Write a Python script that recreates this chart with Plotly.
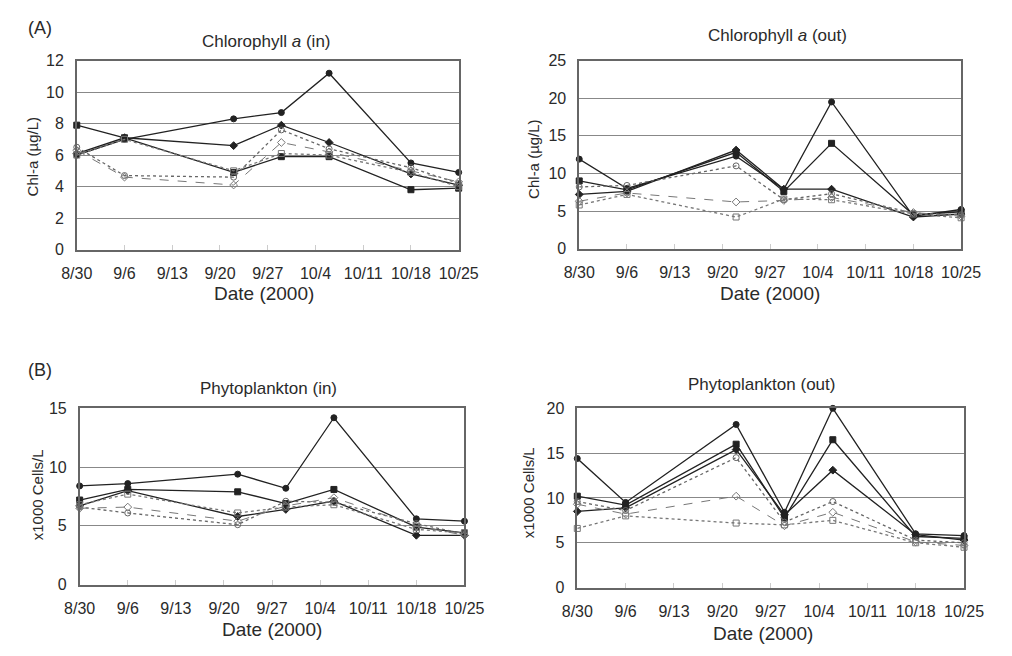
import plotly.graph_objects as go

# ---------------- data ----------------
sample_dates = ["2000-08-30", "2000-09-06", "2000-09-22", "2000-09-29",
                "2000-10-06", "2000-10-18", "2000-10-25"]
tick_dates = ["2000-08-30", "2000-09-06", "2000-09-13", "2000-09-20", "2000-09-27",
              "2000-10-04", "2000-10-11", "2000-10-18", "2000-10-25"]
tick_labels = ["8/30", "9/6", "9/13", "9/20", "9/27", "10/4", "10/11", "10/18", "10/25"]

chl_in_s1 = [6.0, 7.0, 8.3, 8.7, 11.2, 5.5, 4.9]
chl_in_s2 = [7.9, 7.1, 4.9, 5.9, 5.9, 3.8, 3.9]
chl_in_s3 = [6.1, 7.1, 6.6, 7.9, 6.8, 4.8, 4.1]
chl_in_o1 = [6.5, 4.7, 4.6, 7.6, 6.4, 5.2, 4.2]
chl_in_o2 = [6.3, 4.6, 4.1, 6.8, 6.2, 5.0, 4.3]
chl_in_o3 = [6.0, 7.0, 5.0, 6.1, 6.0, 4.9, 4.0]

chl_out_s1 = [11.9, 8.0, 12.3, 7.9, 19.5, 4.3, 5.2]
chl_out_s2 = [9.0, 7.8, 12.8, 7.6, 14.0, 4.5, 4.9]
chl_out_s3 = [7.2, 7.6, 13.1, 7.9, 7.9, 4.2, 4.6]
chl_out_o1 = [8.2, 8.4, 11.0, 6.5, 7.3, 4.7, 4.5]
chl_out_o2 = [6.3, 7.4, 6.2, 6.4, 6.8, 4.8, 4.3]
chl_out_o3 = [5.8, 7.2, 4.2, 6.6, 6.5, 4.6, 4.1]

phy_in_s1 = [8.4, 8.6, 9.4, 8.2, 14.2, 5.6, 5.4]
phy_in_s2 = [7.2, 8.1, 7.9, 6.9, 8.1, 4.9, 4.4]
phy_in_s3 = [6.7, 8.0, 5.8, 6.4, 7.1, 4.2, 4.2]
phy_in_o1 = [6.6, 6.1, 5.1, 7.1, 7.0, 5.2, 4.3]
phy_in_o2 = [6.5, 6.6, 5.4, 6.7, 7.4, 5.0, 4.2]
phy_in_o3 = [6.8, 7.7, 6.1, 6.6, 6.8, 4.7, 4.4]

phy_out_s1 = [14.4, 9.5, 18.2, 8.4, 20.0, 6.0, 5.8]
phy_out_s2 = [10.2, 9.2, 16.0, 7.8, 16.5, 5.7, 5.5]
phy_out_s3 = [8.5, 8.9, 15.4, 8.1, 13.1, 5.9, 5.3]
phy_out_o1 = [9.6, 8.6, 14.5, 7.3, 9.6, 5.3, 5.0]
phy_out_o2 = [9.3, 8.2, 10.2, 6.9, 8.4, 5.1, 4.7]
phy_out_o3 = [6.6, 8.0, 7.2, 7.0, 7.5, 5.0, 4.5]

panel_titles = ["Chlorophyll <i>a</i> (in)", "Chlorophyll <i>a</i> (out)",
                "Phytoplankton (in)", "Phytoplankton (out)"]
y_titles = ["Chl-a (µg/L)", "Chl-a (µg/L)", "x1000 Cells/L", "x1000 Cells/L"]
x_title = "Date (2000)"
part_labels = ["(A)", "(B)"]

panels = [
    dict(series=[chl_in_s1, chl_in_s2, chl_in_s3, chl_in_o1, chl_in_o2, chl_in_o3],
         yrange=[0, 12], dtick=2),
    dict(series=[chl_out_s1, chl_out_s2, chl_out_s3, chl_out_o1, chl_out_o2, chl_out_o3],
         yrange=[0, 25], dtick=5),
    dict(series=[phy_in_s1, phy_in_s2, phy_in_s3, phy_in_o1, phy_in_o2, phy_in_o3],
         yrange=[0, 15], dtick=5),
    dict(series=[phy_out_s1, phy_out_s2, phy_out_s3, phy_out_o1, phy_out_o2, phy_out_o3],
         yrange=[0, 20], dtick=5),
]

styles = [
    dict(dash="solid", color="#222222", symbol="circle", width=1.3),
    dict(dash="solid", color="#222222", symbol="square", width=1.3),
    dict(dash="solid", color="#222222", symbol="diamond", width=1.3),
    dict(dash="dot", color="#666666", symbol="circle-open", width=1.3),
    dict(dash="dash", color="#777777", symbol="diamond-open", width=1.0),
    dict(dash="dot", color="#777777", symbol="square-open", width=1.3),
]

W, H = 1012, 656
# plot areas in pixels: (x0, x1, ytop, ybottom)
boxes = [(63, 459, 54, 248), (584, 980, 54, 247), (66, 465, 411, 592), (582, 983, 411, 595)]
# label positions in pixels
title_pos = [(260, 34), (790, 28), (262, 391), (773, 387)]
xtitle_pos = [(257, 293), (782, 293), (265, 638), (775, 642)]
ytitle_pos = [(17, 152), (537, 155), (22, 500), (531, 498)]
part_pos = [(10, 21), (10, 372)]

FONT = "Liberation Sans, Arial, sans-serif"
TXT = "#2a2a2a"

fig = go.Figure()
for i, (p, b) in enumerate(zip(panels, boxes)):
    n = "" if i == 0 else str(i + 1)
    xa, ya = "x" + n, "y" + n
    for s, st in zip(p["series"], styles):
        fig.add_trace(go.Scatter(
            x=sample_dates, y=s, xaxis=xa, yaxis=ya, mode="lines+markers",
            line=dict(color=st["color"], dash=st["dash"], width=st["width"]),
            marker=dict(symbol=st["symbol"], size=6, color=st["color"],
                        line=dict(color=st["color"], width=1)),
            cliponaxis=False, showlegend=False))
    x0, x1, yt, yb = b
    fig.layout["xaxis" + n] = dict(
        domain=[x0 / W, x1 / W], anchor=ya, type="date",
        range=["2000-08-30", "2000-10-25"],
        tickvals=tick_dates, ticktext=tick_labels,
        ticks="inside", ticklen=5, tickcolor="#cccccc",
        ticklabelstandoff=8,
        showgrid=False, showline=True, linecolor="#666666", linewidth=1.5, mirror=True,
        tickfont=dict(family=FONT, size=16, color=TXT),
        zeroline=False)
    fig.layout["yaxis" + n] = dict(
        domain=[1 - yb / H, 1 - yt / H], anchor=xa,
        range=p["yrange"], dtick=p["dtick"], tick0=0,
        showgrid=True, gridcolor="#888888", gridwidth=1.2,
        showline=True, linecolor="#666666", linewidth=1.5, mirror=True,
        ticks="", ticklabelstandoff=8,
        tickfont=dict(family=FONT, size=16, color=TXT),
        zeroline=False)

def label(text, x, y, size, anchor="center", angle=0):
    fig.add_annotation(text=text, x=x / W, y=1 - y / H, xref="paper", yref="paper",
                       showarrow=False, xanchor=anchor, yanchor="middle", textangle=angle,
                       font=dict(family=FONT, size=size, color=TXT))

for i in range(4):
    label(panel_titles[i], *title_pos[i], 17)
    label(x_title, *xtitle_pos[i], 19)
    label(y_titles[i], *ytitle_pos[i], 15, angle=-90)
for t, pos in zip(part_labels, part_pos):
    label(t, *pos, 18, anchor="left")

fig.update_layout(width=W, height=H, margin=dict(l=0, r=0, t=0, b=0),
                  paper_bgcolor="white", plot_bgcolor="white")
fig.write_html("out.html")
